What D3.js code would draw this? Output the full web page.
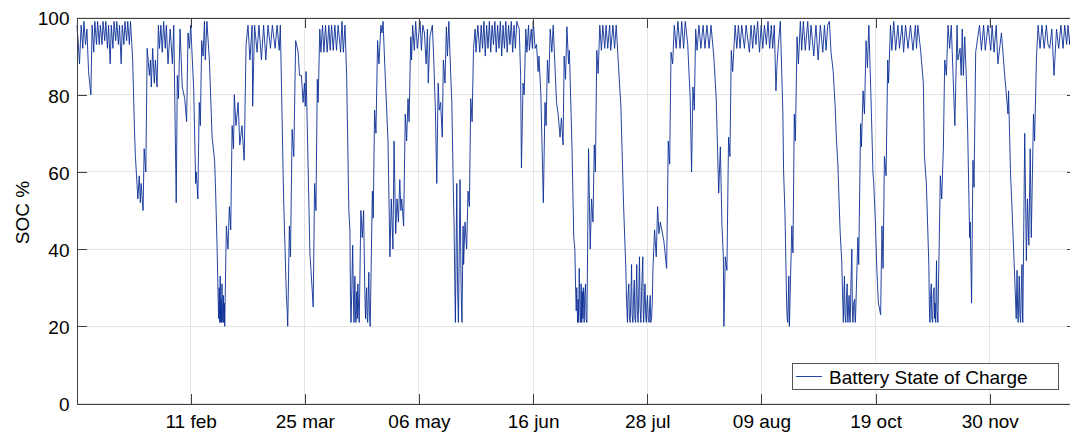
<!DOCTYPE html>
<html>
<head>
<meta charset="utf-8">
<script src="https://cdn.jsdelivr.net/npm/d3@7"></script>
<style>
  html, body { margin: 0; padding: 0; background: #fff; overflow: hidden; }
  svg { display: block; font-family: "Liberation Sans", Arial, sans-serif; }
</style>
</head>
<body>
<svg id="chart" width="1070" height="436"></svg>
<script>
// Battery state of charge over one year: [day of year, SOC %]
const socQ1 = [
  [0,98],[0.5,95],[1.1,88],[1.7,98],[2.3,92],[2.7,99],[3.3,93],[3.8,97],[4.4,86],[5.25,80],[5.7,98],
  [6.3,91],[6.7,99],[7.3,93],[7.7,99],[8.3,93],[8.7,98],[9.3,93],[9.7,99],[10.3,94],[10.7,99],
  [11.3,92],[11.7,98],[12.3,88],[12.7,98],[13.3,92],[13.7,99],[14.3,94],[14.7,99],[15.3,93],[15.7,98],
  [16.3,88],[16.7,98],[17.3,93],[17.7,99],[18.3,94],[18.7,99],[19.3,93],[19.7,99],[20.2,93],
  [20.5,89],[21.2,70],[21.5,64],[22.4,53],[22.9,59],[23.3,52],[23.6,57],[24.3,50],[24.7,66],[25.3,60],
  [25.8,92],[26.6,85],[27,89],[27.3,82],[27.8,92],[28.4,83],[28.8,89],[29.4,82],[29.9,98],[30.3,92],
  [30.8,98],[31.3,91],[31.8,99],[32.4,92],[32.8,98],[33.4,88],[34.2,97],[35,88],[35.5,98],[36.4,52],
  [36.8,85],[37.2,79],[37.8,97],[38.6,82],[39.5,79],[40.2,73],[40.7,96],[41.2,92],[41.7,98],[42.8,81],
  [43.5,57],[43.7,60],[44.3,53],[44.8,78],[45.2,72],[45.7,94],[46.2,90],[46.7,99],[47,89],[47.6,99],
  [48.5,89],[49.5,69],[50.4,63],[50.7,57],[51.3,41],[51.7,27],[51.9,22],[52.1,30],[52.3,21],[52.45,33],
  [52.6,21],[52.8,27],[53,21],[53.1,31],[53.3,22],[53.5,21],[53.6,28],[53.8,21],[53.95,26],[54.1,20],
  [54.7,46],[55.3,40],[55.8,51],[56.3,45],[56.8,72],[57.3,66],[57.6,80],[58.2,72],
  [59,78],[59.6,67],[60.4,72],[61.2,63],[61.9,93],[62.6,98],[63.3,89],[64.1,98],[64.3,77],[65,98],
  [65.9,91],[66.6,98],[67.5,89],[68.3,98],[69.1,89],[69.9,98],[70.8,92],[71.5,98],[72.5,92],[73.2,98],
  [74,91.5],[74.4,98],[75.6,53],[76.6,28],[76.9,24],[77.1,20],[77.7,46],[78.1,38],[78.7,71],[79.3,64],[80,94],
  [80.9,91],[81.4,85],[82.1,85],[82.7,78],[83.2,83],[83.5,77],[83.8,86],[85.2,39],[86.4,25],[86.9,57],
  [87.4,50],[87.9,84],[88.2,78],[88.8,97],[89.2,91],[89.8,98],[90.3,91],[90.9,98]
];
const socQ2 = [
  [91.5,91],[92.1,98],[92.6,91.5],[93.1,98],[93.7,91.5],[94.3,98],[94.9,91.5],[95.5,98],[96.4,91],[96.9,99],
  [97.4,91],[98,98],[98.6,85],[99.4,50],[99.8,45],[100,27],[100.2,21],[100.5,30],[100.8,41],[101.1,26],
  [101.3,21],[101.6,33],[101.8,24],[102,21],[102.3,29],[102.5,22],[102.7,31],[103,24],[103.2,21],[103.8,50],
  [104.3,43],[104.8,50],[105.2,30],[105.5,22],[105.7,27],[105.9,30],[106.1,22],[106.3,21],[106.5,28],[106.7,34],
  [106.9,24],[107.2,20],
  [108,55],[108.3,48],[108.8,76],[109.3,70],[109.9,94],[110.4,88],[111.1,98],[111.5,96],[111.9,99],[112.5,88],
  [113.7,68],[114.4,38],[114.9,53],[115.5,40],[115.9,68],[116.5,44],[117,53],[117.5,47],[118,58],[118.4,50],
  [118.7,53],[119.4,46],[120,75],[120.5,68],[121,79],[121.4,73],[122,95],[122.3,89],[122.7,98],[123.3,91.5],
  [123.8,99],[124.4,92],[125.4,99],[125.9,91.5],[126.4,98],[127,96],[127.6,88],[128.1,97],[128.4,83],[129,95],
  [129.9,98],[130.4,89],[131,76],[131.5,57],[132,83],[132.4,76],[132.9,78],[133.5,69],[133.9,89],[134.5,83],
  [135,97.6],[135.4,90],[135.9,99],[136.6,85],[137,78],[137.6,53],[137.8,47],[138.1,30],[138.3,21],[138.8,57],
  [139.1,30],[139.4,21],[140,58],[140.3,35],[140.5,25],[140.7,21],[141.1,46],[141.3,36],[141.8,47],[142.4,40],
  [142.9,55],[143.4,51],[143.9,79],[144.4,73],
  [144.9,92],[145.5,97],[145.8,91],[146.5,98],[147.2,91],[147.7,98],[148.2,92],[148.7,99],[149.2,90],[149.7,98],
  [150.2,92],[150.7,99],[151.2,91],[151.7,98],[152.2,93],[152.7,99],[153.2,91],[153.7,98],[154.2,92],[154.7,99],
  [155.2,90],[155.7,98],[156.2,92],[156.7,99],[157.2,91],[157.7,98],[158.2,93],[158.7,99],[159.2,91],[159.7,98],
  [160.2,92],[160.7,99],[161.1,98],[161.6,97],[162.1,85],[162.4,61],[163,83],[163.4,80],[164,97],[164.4,91],
  [165,98],[165.3,91.5],[166,97],[166.4,92],[166.7,99],[167.4,92],[167.9,93],[168.5,86],[168.8,90],[169.5,80],
  [170.4,52],[171,78],[171.4,72],[171.9,89],[172.4,83],[172.9,97],[173.5,91],[174,98],[175.2,78],[175.8,75],
  [176.5,69],[177,74],[177.6,67],[178,90],[178.5,84],[179,97.6],[179.6,88],[179.9,91.5],[180.9,65],[181.5,43]
];
const socQ3 = [
  [181.9,40],[182.2,29],[182.4,24],[182.6,30],[182.9,21],[183.1,27],[183.3,21],[183.5,35],[183.8,24],[184,21],
  [184.2,31],[184.4,21],[184.6,29],[184.8,22],[185,30],[185.3,21],[185.5,28],[185.8,31],[186,22],[186.3,21],
  [186.9,66],
  [187.5,40],[188,53],[188.5,47],[189,67],[189.4,60],[189.9,91.5],[190.4,85.5],[191,98],[191.6,91.5],[192.1,98],
  [192.8,92],[193.3,98],[193.9,92],[194.6,98],[195,91.5],[195.8,98],[196.4,92],[197,98],[197.7,89],[198.7,77],
  [199.7,51],[200.5,35],[200.8,26],[201.1,21],[201.3,28],[201.6,31],[201.8,22],[202.1,21],[202.4,29],[202.6,36],
  [202.8,23],[203.1,21],[203.3,27],[203.6,32],[203.8,22],[204.1,21],[204.3,30],[204.5,36],[204.7,24],[205,21],
  [205.2,28],[205.5,38],[205.7,25],[206,21],[206.3,30],[206.7,38],[206.85,24],[207,21],[207.3,27],[207.5,31],
  [207.8,22],[208,21],[208.2,26],[208.4,28],[208.7,22],[209,21],[209.2,25],[209.4,28],[209.6,21],[209.9,22],
  [210.2,27],[210.4,35],[211,45],[211.6,38],[212.1,51],[212.6,44],[213.1,47],[214.4,42],[215.4,35],[216,68],
  [216.5,62],[217,91],[217.6,88],[218.2,98],[218.9,92],[219.5,99],[220.3,92],[220.9,99],[221.6,92],[222.2,99],
  [223.1,93],[224,79],[224.5,60],[225,82],[225.5,76],[226,97],[226.5,91.5],[227.2,98],[227.9,92],[228.7,98],
  [229.4,92],[230.1,98],[230.9,92],[231.6,98],[232.6,90],[233.5,79],[234.4,54.5],[235,66.5],[235.6,46],[236.1,38],
  [236.3,20],[236.8,38],[237.4,34.5],[238,69],[238.5,64],[239,91.5],[239.5,86],[240.4,98],[241,92],[241.6,98],
  [242.2,92],[242.8,98],[243.8,92],[244.4,98],[245.6,91],[246.2,98],[246.8,92],[247.4,98],[248,93],[248.6,99],
  [249.3,91],[249.9,98],[250.5,92],[251.1,98],[251.8,93],[252.4,99],[253,92],[253.6,98],[254.1,92],[254.7,98],
  [255.3,81],[255.7,88],[256.2,93],[256.9,99],[257.8,76],[258.1,60],[258.6,49],[259.2,26],[259.4,22],[259.6,21],
  [259.8,27],[260,33],[260.1,24],[260.2,20],[261.1,46],[261.5,39],[262,75],[262.4,68],[263,95],[263.5,88],
  [264.2,99],[264.7,91.5],[265.3,99],
  [266,91.5],[266.9,99],[267.5,91.5],[268.1,98],[269.1,90],[269.9,98],[270.7,89],[271.5,98],[272.4,91]
];
const socQ4 = [
  [273,98],[273.6,91.5],[274.2,98],[274.8,99],[275.4,91],[276.2,86],[276.9,77],[277.4,68],[277.9,62],[278.7,45],
  [279.3,37],[279.9,21],[280.1,28],[280.3,33],[280.5,23],[280.8,21],[281,27],[281.3,31],[281.45,22],[281.6,21],
  [281.8,25],[282,28],[282.2,22],[282.4,21],[282.7,32],[283,40],[283.2,24],[283.4,21],[283.7,26],[284,27],
  [284.15,22],[284.3,21],[285.2,43],[285.5,36],[286.2,72.5],[286.5,66.5],[287.1,81],[287.6,75],[288.2,94],[288.7,87],
  [289.2,98],[290,79],[290.7,60],[291,57],[291.6,47],[292.1,35],[292.7,26],[293.5,23],[294,46],[294.4,35],
  [294.9,64],[295.5,59],[296.1,89],[296.4,83],[297.1,98],[297.6,91.5],[298.3,99],[299,91.5],[299.8,98],[300.4,92],
  [301.3,98],[301.9,91],[302.6,98],[303.5,92],[304.4,98],[305.3,91.5],[306.2,98],[306.6,92],[307.1,98],[308.1,91.5],
  [309.1,83],[309.5,64],[310.2,57],[311.1,36],[311.3,25],[311.5,21],[311.7,27],[312,31],[312.2,22],[312.5,21],
  [312.7,28],[313,30],[313.2,22],[313.4,26],[313.6,21],[313.9,37],[314.1,24],[314.4,21],
  [315.3,59],[315.8,53],[316.4,66],[316.9,89],[317.5,85],[318.1,98],[318.7,92],[319.3,98],[320.6,72],
  [321.4,98],[321.7,89],[322.5,92],[322.9,85],[323.3,97],[323.7,85],[324.2,95],[324.8,84],[325.3,70],[326,43],
  [326.2,47],[326.7,26],[327.2,63],[327.6,56],[328.2,91],[329,95],[329.6,98],[330.3,91.5],[331.1,98],[331.7,91.5],
  [332.7,98],[333.7,91.5],[334.2,98],[334.9,91],[335.7,98],[336.3,88],[337.6,96],[338.8,85],[340,75],[340.2,81],
  [340.9,60],[341.5,50],[342.1,39],[342.8,26],[343,22],[343.3,34.5],[343.5,25],[343.7,21],[343.9,27],[344.1,33],
  [344.35,23],[344.6,21],[344.8,28],[345.1,36],[345.25,24],[345.4,21],
  [346.1,70],[346.7,37],[347.1,53],[347.6,41],[348.1,66],[348.5,43],[349.3,75],[349.7,68],[350.4,90],[351,98],
  [351.7,92],[352.4,98],[353.2,92],[354,98],[354.6,93],[355.2,92],[356,97],[356.8,85],[357.7,97],[358.5,92],
  [359.3,98],[360.1,92],[360.7,98],[361.4,93],[361.9,98],[362.5,93],[363.1,99],[363.7,93],[364.3,98],[364.9,94]
];

// Axis ticks: one x tick every 1000 hours
const xTickHours = [1000, 2000, 3000, 4000, 5000, 6000, 7000, 8000];
const xTickLabels = ["11 feb", "25 mar", "06 may", "16 jun", "28 jul", "09 aug", "19 oct", "30 nov"];
const yTicks = [0, 20, 40, 60, 80, 100];

const seriesName = "Battery State of Charge";
const yLabel = "SOC %";

const soc = [...socQ1, ...socQ2, ...socQ3, ...socQ4];

const svg = d3.select("#chart");
const plotLeft = 76.5, plotRight = 1076.5, plotTop = 17.5, plotBottom = 403.5;

const x = d3.scaleLinear().domain([0, 8760]).range([plotLeft, plotRight]);
const y = d3.scaleLinear().domain([0, 100]).range([plotBottom, plotTop]);

const axisColor = "#404040";
const gridColor = "#e3e3e3";
const lineColor = "#0b2f96";
const fontSize = 19;

// grid
const grid = svg.append("g").attr("shape-rendering", "crispEdges");
grid.selectAll("line.gy").data(yTicks).join("line")
  .attr("x1", plotLeft).attr("x2", plotRight)
  .attr("y1", d => y(d)).attr("y2", d => y(d))
  .attr("stroke", gridColor);
grid.selectAll("line.gx").data(xTickHours).join("line")
  .attr("x1", d => x(d)).attr("x2", d => x(d))
  .attr("y1", plotTop).attr("y2", plotBottom)
  .attr("stroke", gridColor);

// series
svg.append("defs").append("clipPath").attr("id", "plot-clip")
  .append("rect").attr("x", plotLeft).attr("y", plotTop - 1)
  .attr("width", plotRight - plotLeft).attr("height", plotBottom - plotTop + 2);

const line = d3.line().x(d => x(d[0] * 24)).y(d => y(d[1]));
svg.append("path")
  .datum(soc)
  .attr("clip-path", "url(#plot-clip)")
  .attr("fill", "none")
  .attr("stroke", lineColor)
  .attr("stroke-width", 0.9)
  .attr("stroke-linejoin", "round")
  .attr("d", line);

// axes with inward ticks on all four sides
function styleAxis(g) {
  g.select(".domain").attr("stroke", axisColor);
  g.selectAll(".tick line").attr("stroke", axisColor);
  g.selectAll("text").attr("fill", "#000").attr("font-size", fontSize)
    .attr("font-family", "'Liberation Sans', Arial, sans-serif");
  g.attr("shape-rendering", "crispEdges");
}

const xBottom = svg.append("g").attr("transform", `translate(0,${plotBottom})`)
  .call(d3.axisBottom(x).tickValues(xTickHours).tickFormat((d, i) => xTickLabels[i])
    .tickSizeInner(-10).tickSizeOuter(0).tickPadding(11.5));
styleAxis(xBottom);

const xTopAxis = svg.append("g").attr("transform", `translate(0,${plotTop})`)
  .call(d3.axisTop(x).tickValues(xTickHours).tickFormat("").tickSizeInner(-10).tickSizeOuter(0));
styleAxis(xTopAxis);

const yLeft = svg.append("g").attr("transform", `translate(${plotLeft},0)`)
  .call(d3.axisLeft(y).tickValues(yTicks).tickSizeInner(-10).tickSizeOuter(0).tickPadding(7));
styleAxis(yLeft);
yLeft.selectAll("text").attr("dy", "0.39em");

const yRight = svg.append("g").attr("transform", `translate(${plotRight},0)`)
  .call(d3.axisRight(y).tickValues(yTicks).tickFormat("").tickSizeInner(-10).tickSizeOuter(0));
styleAxis(yRight);

// y label
svg.append("text")
  .attr("transform", `translate(29,${(plotTop + plotBottom) / 2 + 2}) rotate(-90)`)
  .attr("text-anchor", "middle")
  .attr("font-size", fontSize)
  .attr("fill", "#000")
  .text(yLabel);

// legend
const legend = svg.append("g");
legend.append("rect")
  .attr("x", 792.5).attr("y", 363.5).attr("width", 266).attr("height", 26)
  .attr("fill", "#fff").attr("stroke", "#555").attr("shape-rendering", "crispEdges");
legend.append("line")
  .attr("x1", 796).attr("x2", 822).attr("y1", 376.5).attr("y2", 376.5)
  .attr("stroke", lineColor).attr("stroke-width", 0.9);
legend.append("text")
  .attr("x", 829).attr("y", 383.5)
  .attr("font-size", fontSize).attr("fill", "#000")
  .text(seriesName);
</script>
</body>
</html>
